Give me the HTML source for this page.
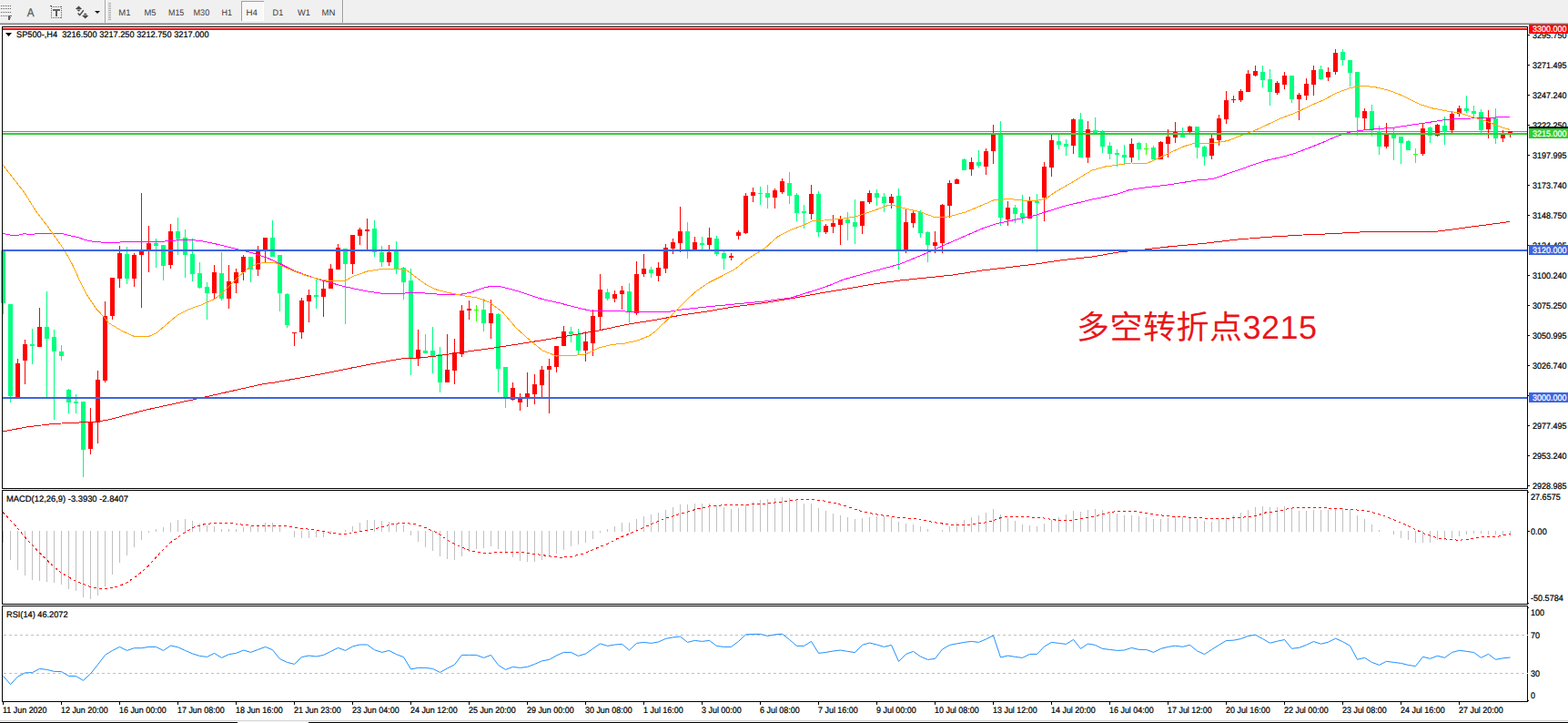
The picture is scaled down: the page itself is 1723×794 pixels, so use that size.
<!DOCTYPE html>
<html><head><meta charset="utf-8"><title>SP500-,H4</title>
<style>
html,body{margin:0;padding:0;background:#fff;width:1723px;height:794px;overflow:hidden}
svg{display:block;position:absolute;left:0;top:0}
text{font-family:"Liberation Sans",sans-serif;white-space:pre}
</style></head>
<body>
<svg width="1723" height="794" viewBox="0 0 1723 794" shape-rendering="crispEdges" text-rendering="geometricPrecision">
<rect x="0" y="0" width="1723" height="794" fill="#ffffff"/>
<rect x="0" y="0" width="1723" height="25" fill="#f0f0f0"/>
<rect x="0" y="25" width="1723" height="1" fill="#b9b9b9"/>
<rect x="0" y="26" width="1723" height="1" fill="#7a7a7a"/>
<rect x="1" y="6" width="1" height="1" fill="#5e5e5e"/>
<rect x="3" y="6" width="1" height="1" fill="#5e5e5e"/>
<rect x="5" y="6" width="1" height="1" fill="#5e5e5e"/>
<rect x="7" y="6" width="1" height="1" fill="#5e5e5e"/>
<rect x="9" y="6" width="1" height="1" fill="#5e5e5e"/>
<rect x="11" y="6" width="1" height="1" fill="#5e5e5e"/>
<rect x="1" y="9" width="1" height="1" fill="#5e5e5e"/>
<rect x="3" y="9" width="1" height="1" fill="#5e5e5e"/>
<rect x="5" y="9" width="1" height="1" fill="#5e5e5e"/>
<rect x="7" y="9" width="1" height="1" fill="#5e5e5e"/>
<rect x="9" y="9" width="1" height="1" fill="#5e5e5e"/>
<rect x="11" y="9" width="1" height="1" fill="#5e5e5e"/>
<rect x="1" y="13" width="1" height="1" fill="#5e5e5e"/>
<rect x="3" y="13" width="1" height="1" fill="#5e5e5e"/>
<rect x="5" y="13" width="1" height="1" fill="#5e5e5e"/>
<rect x="7" y="13" width="1" height="1" fill="#5e5e5e"/>
<rect x="9" y="13" width="1" height="1" fill="#5e5e5e"/>
<rect x="11" y="13" width="1" height="1" fill="#5e5e5e"/>
<rect x="1" y="17" width="1" height="1" fill="#5e5e5e"/>
<rect x="3" y="17" width="1" height="1" fill="#5e5e5e"/>
<rect x="5" y="17" width="1" height="1" fill="#5e5e5e"/>
<rect x="7" y="17" width="1" height="1" fill="#5e5e5e"/>
<rect x="9" y="17" width="2" height="5" fill="#5e5e5e"/>
<rect x="9" y="17" width="4" height="1" fill="#5e5e5e"/>
<rect x="9" y="19" width="3" height="1" fill="#5e5e5e"/>
<text x="29.8" y="18" font-size="12.6" fill="#5e5e5e" textLength="7.8" lengthAdjust="spacingAndGlyphs" stroke="#5e5e5e" stroke-width="0.3">A</text>
<rect x="56" y="7" width="1" height="1" fill="#5e5e5e"/>
<rect x="56" y="19" width="1" height="1" fill="#5e5e5e"/>
<rect x="58" y="7" width="1" height="1" fill="#5e5e5e"/>
<rect x="58" y="19" width="1" height="1" fill="#5e5e5e"/>
<rect x="60" y="7" width="1" height="1" fill="#5e5e5e"/>
<rect x="60" y="19" width="1" height="1" fill="#5e5e5e"/>
<rect x="62" y="7" width="1" height="1" fill="#5e5e5e"/>
<rect x="62" y="19" width="1" height="1" fill="#5e5e5e"/>
<rect x="64" y="7" width="1" height="1" fill="#5e5e5e"/>
<rect x="64" y="19" width="1" height="1" fill="#5e5e5e"/>
<rect x="66" y="7" width="1" height="1" fill="#5e5e5e"/>
<rect x="66" y="19" width="1" height="1" fill="#5e5e5e"/>
<rect x="67" y="7" width="1" height="1" fill="#5e5e5e"/>
<rect x="67" y="19" width="1" height="1" fill="#5e5e5e"/>
<rect x="56" y="7" width="1" height="1" fill="#5e5e5e"/>
<rect x="67" y="7" width="1" height="1" fill="#5e5e5e"/>
<rect x="56" y="9" width="1" height="1" fill="#5e5e5e"/>
<rect x="67" y="9" width="1" height="1" fill="#5e5e5e"/>
<rect x="56" y="11" width="1" height="1" fill="#5e5e5e"/>
<rect x="67" y="11" width="1" height="1" fill="#5e5e5e"/>
<rect x="56" y="13" width="1" height="1" fill="#5e5e5e"/>
<rect x="67" y="13" width="1" height="1" fill="#5e5e5e"/>
<rect x="56" y="15" width="1" height="1" fill="#5e5e5e"/>
<rect x="67" y="15" width="1" height="1" fill="#5e5e5e"/>
<rect x="56" y="17" width="1" height="1" fill="#5e5e5e"/>
<rect x="67" y="17" width="1" height="1" fill="#5e5e5e"/>
<rect x="56" y="19" width="1" height="1" fill="#5e5e5e"/>
<rect x="67" y="19" width="1" height="1" fill="#5e5e5e"/>
<rect x="55" y="6" width="2" height="1" fill="#5e5e5e"/>
<rect x="58" y="10" width="8" height="2" fill="#686868"/>
<rect x="61" y="11" width="2" height="7" fill="#5e5e5e"/>
<g shape-rendering="auto"><path d="M82.8,10 L86.5,6.6 L90.2,10 Z M84,10.6 L89,10.6 L86.5,12.8 Z M90,17 L97.4,17 L93.7,20.4 Z M91.2,16.4 L96.2,16.4 L93.7,14.2 Z" fill="#4a4a4a"/><path d="M85.6,14.6 L87.6,16.6 L91.8,11.2" fill="none" stroke="#4a4a4a" stroke-width="1.4"/></g>
<path d="M104,12 L110,12 L107,15 Z" fill="#1a1a1a" shape-rendering="auto"/>
<rect x="115" y="0" width="1" height="25" fill="#a3a3a3"/>
<rect x="116" y="0" width="1" height="25" fill="#fbfbfb"/>
<rect x="119" y="3" width="3" height="1" fill="#a9a9a9"/>
<rect x="119" y="5" width="3" height="1" fill="#a9a9a9"/>
<rect x="119" y="7" width="3" height="1" fill="#a9a9a9"/>
<rect x="119" y="9" width="3" height="1" fill="#a9a9a9"/>
<rect x="119" y="11" width="3" height="1" fill="#a9a9a9"/>
<rect x="119" y="13" width="3" height="1" fill="#a9a9a9"/>
<rect x="119" y="15" width="3" height="1" fill="#a9a9a9"/>
<rect x="119" y="17" width="3" height="1" fill="#a9a9a9"/>
<rect x="119" y="19" width="3" height="1" fill="#a9a9a9"/>
<rect x="119" y="21" width="3" height="1" fill="#a9a9a9"/>
<rect x="265" y="1" width="25" height="22" fill="#f8f8f8"/>
<rect x="265" y="1" width="25" height="1" fill="#a0a0a0"/>
<rect x="265" y="1" width="1" height="22" fill="#a0a0a0"/>
<rect x="266" y="22" width="24" height="1" fill="#ffffff"/>
<rect x="289" y="2" width="1" height="21" fill="#ffffff"/>
<text x="130.3" y="17" font-size="9.5" fill="#3a3a3a" textLength="13.2" lengthAdjust="spacingAndGlyphs" stroke="none">M1</text>
<text x="158.5" y="17" font-size="9.5" fill="#3a3a3a" textLength="13.0" lengthAdjust="spacingAndGlyphs" stroke="none">M5</text>
<text x="185" y="17" font-size="9.5" fill="#3a3a3a" textLength="17.3" lengthAdjust="spacingAndGlyphs" stroke="none">M15</text>
<text x="212.5" y="17" font-size="9.5" fill="#3a3a3a" textLength="17.7" lengthAdjust="spacingAndGlyphs" stroke="none">M30</text>
<text x="243.6" y="17" font-size="9.5" fill="#3a3a3a" textLength="11.5" lengthAdjust="spacingAndGlyphs" stroke="none">H1</text>
<text x="270.6" y="17" font-size="9.5" fill="#3a3a3a" textLength="12.4" lengthAdjust="spacingAndGlyphs" stroke="none">H4</text>
<text x="299.6" y="17" font-size="9.5" fill="#3a3a3a" textLength="11.6" lengthAdjust="spacingAndGlyphs" stroke="none">D1</text>
<text x="327.1" y="17" font-size="9.5" fill="#3a3a3a" textLength="13.9" lengthAdjust="spacingAndGlyphs" stroke="none">W1</text>
<text x="353.6" y="17" font-size="9.5" fill="#3a3a3a" textLength="14.8" lengthAdjust="spacingAndGlyphs" stroke="none">MN</text>
<rect x="376" y="0" width="1" height="25" fill="#9a9a9a"/>
<rect x="377" y="0" width="1" height="25" fill="#fbfbfb"/>
<rect x="3" y="144" width="1675" height="1" fill="#778899"/>
<rect x="3" y="275" width="1" height="70" fill="#00ff80"/>
<rect x="1" y="275" width="5" height="58" fill="#00ff80"/>
<rect x="11" y="334" width="1" height="108" fill="#00ff80"/>
<rect x="9" y="334" width="5" height="101" fill="#00ff80"/>
<rect x="19" y="394" width="1" height="42" fill="#ff0000"/>
<rect x="17" y="399" width="5" height="37" fill="#ff0000"/>
<rect x="27" y="373" width="1" height="49" fill="#ff0000"/>
<rect x="25" y="378" width="5" height="18" fill="#ff0000"/>
<rect x="35" y="361" width="1" height="39" fill="#00ff80"/>
<rect x="33" y="378" width="5" height="2" fill="#00ff80"/>
<rect x="43" y="338" width="1" height="43" fill="#ff0000"/>
<rect x="41" y="359" width="5" height="22" fill="#ff0000"/>
<rect x="51" y="320" width="1" height="116" fill="#00ff80"/>
<rect x="49" y="359" width="5" height="13" fill="#00ff80"/>
<rect x="59" y="362" width="1" height="99" fill="#00ff80"/>
<rect x="57" y="370" width="5" height="16" fill="#00ff80"/>
<rect x="67" y="379" width="1" height="17" fill="#00ff80"/>
<rect x="65" y="386" width="5" height="5" fill="#00ff80"/>
<rect x="75" y="427" width="1" height="27" fill="#00ff80"/>
<rect x="73" y="428" width="5" height="14" fill="#00ff80"/>
<rect x="83" y="433" width="1" height="21" fill="#00ff80"/>
<rect x="81" y="441" width="5" height="2" fill="#00ff80"/>
<rect x="91" y="441" width="1" height="83" fill="#00ff80"/>
<rect x="89" y="441" width="5" height="53" fill="#00ff80"/>
<rect x="99" y="448" width="1" height="51" fill="#ff0000"/>
<rect x="97" y="464" width="5" height="29" fill="#ff0000"/>
<rect x="107" y="407" width="1" height="80" fill="#ff0000"/>
<rect x="105" y="417" width="5" height="47" fill="#ff0000"/>
<rect x="115" y="331" width="1" height="89" fill="#ff0000"/>
<rect x="113" y="347" width="5" height="71" fill="#ff0000"/>
<rect x="123" y="305" width="1" height="46" fill="#ff0000"/>
<rect x="121" y="305" width="5" height="42" fill="#ff0000"/>
<rect x="131" y="270" width="1" height="46" fill="#ff0000"/>
<rect x="129" y="278" width="5" height="28" fill="#ff0000"/>
<rect x="139" y="271" width="1" height="41" fill="#00ff80"/>
<rect x="137" y="279" width="5" height="27" fill="#00ff80"/>
<rect x="147" y="278" width="1" height="37" fill="#ff0000"/>
<rect x="145" y="280" width="5" height="26" fill="#ff0000"/>
<rect x="155" y="212" width="1" height="126" fill="#ff0000"/>
<rect x="153" y="275" width="5" height="5" fill="#ff0000"/>
<rect x="163" y="248" width="1" height="51" fill="#ff0000"/>
<rect x="161" y="267" width="5" height="9" fill="#ff0000"/>
<rect x="171" y="262" width="1" height="32" fill="#00ff80"/>
<rect x="169" y="267" width="5" height="3" fill="#00ff80"/>
<rect x="179" y="269" width="1" height="39" fill="#00ff80"/>
<rect x="177" y="269" width="5" height="23" fill="#00ff80"/>
<rect x="187" y="246" width="1" height="49" fill="#ff0000"/>
<rect x="185" y="254" width="5" height="37" fill="#ff0000"/>
<rect x="195" y="239" width="1" height="41" fill="#00ff80"/>
<rect x="193" y="254" width="5" height="8" fill="#00ff80"/>
<rect x="203" y="252" width="1" height="53" fill="#00ff80"/>
<rect x="201" y="261" width="5" height="19" fill="#00ff80"/>
<rect x="211" y="262" width="1" height="47" fill="#00ff80"/>
<rect x="209" y="279" width="5" height="22" fill="#00ff80"/>
<rect x="219" y="288" width="1" height="29" fill="#00ff80"/>
<rect x="217" y="300" width="5" height="16" fill="#00ff80"/>
<rect x="227" y="310" width="1" height="41" fill="#00ff80"/>
<rect x="225" y="315" width="5" height="7" fill="#00ff80"/>
<rect x="235" y="291" width="1" height="38" fill="#ff0000"/>
<rect x="233" y="299" width="5" height="23" fill="#ff0000"/>
<rect x="243" y="277" width="1" height="53" fill="#00ff80"/>
<rect x="241" y="300" width="5" height="28" fill="#00ff80"/>
<rect x="251" y="291" width="1" height="48" fill="#ff0000"/>
<rect x="249" y="309" width="5" height="19" fill="#ff0000"/>
<rect x="259" y="295" width="1" height="27" fill="#ff0000"/>
<rect x="257" y="299" width="5" height="12" fill="#ff0000"/>
<rect x="267" y="280" width="1" height="28" fill="#ff0000"/>
<rect x="265" y="282" width="5" height="17" fill="#ff0000"/>
<rect x="275" y="282" width="1" height="28" fill="#00ff80"/>
<rect x="273" y="282" width="5" height="14" fill="#00ff80"/>
<rect x="283" y="270" width="1" height="33" fill="#ff0000"/>
<rect x="281" y="275" width="5" height="21" fill="#ff0000"/>
<rect x="291" y="261" width="1" height="27" fill="#ff0000"/>
<rect x="289" y="261" width="5" height="15" fill="#ff0000"/>
<rect x="299" y="242" width="1" height="40" fill="#00ff80"/>
<rect x="297" y="261" width="5" height="21" fill="#00ff80"/>
<rect x="307" y="280" width="1" height="62" fill="#00ff80"/>
<rect x="305" y="280" width="5" height="42" fill="#00ff80"/>
<rect x="315" y="322" width="1" height="38" fill="#00ff80"/>
<rect x="313" y="323" width="5" height="34" fill="#00ff80"/>
<rect x="323" y="365" width="1" height="15" fill="#ff0000"/>
<rect x="321" y="365" width="5" height="1" fill="#ff0000"/>
<rect x="331" y="327" width="1" height="45" fill="#ff0000"/>
<rect x="329" y="330" width="5" height="35" fill="#ff0000"/>
<rect x="339" y="318" width="1" height="36" fill="#ff0000"/>
<rect x="337" y="324" width="5" height="7" fill="#ff0000"/>
<rect x="347" y="307" width="1" height="32" fill="#00ff80"/>
<rect x="345" y="324" width="5" height="2" fill="#00ff80"/>
<rect x="355" y="309" width="1" height="39" fill="#ff0000"/>
<rect x="353" y="317" width="5" height="9" fill="#ff0000"/>
<rect x="363" y="290" width="1" height="27" fill="#ff0000"/>
<rect x="361" y="295" width="5" height="22" fill="#ff0000"/>
<rect x="371" y="268" width="1" height="28" fill="#ff0000"/>
<rect x="369" y="272" width="5" height="24" fill="#ff0000"/>
<rect x="379" y="273" width="1" height="83" fill="#00ff80"/>
<rect x="377" y="273" width="5" height="17" fill="#00ff80"/>
<rect x="387" y="258" width="1" height="43" fill="#ff0000"/>
<rect x="385" y="258" width="5" height="32" fill="#ff0000"/>
<rect x="395" y="250" width="1" height="19" fill="#ff0000"/>
<rect x="393" y="252" width="5" height="7" fill="#ff0000"/>
<rect x="403" y="240" width="1" height="34" fill="#ff0000"/>
<rect x="401" y="252" width="5" height="2" fill="#ff0000"/>
<rect x="411" y="242" width="1" height="40" fill="#00ff80"/>
<rect x="409" y="251" width="5" height="26" fill="#00ff80"/>
<rect x="419" y="270" width="1" height="23" fill="#00ff80"/>
<rect x="417" y="277" width="5" height="11" fill="#00ff80"/>
<rect x="427" y="269" width="1" height="23" fill="#ff0000"/>
<rect x="425" y="277" width="5" height="11" fill="#ff0000"/>
<rect x="435" y="265" width="1" height="36" fill="#00ff80"/>
<rect x="433" y="276" width="5" height="19" fill="#00ff80"/>
<rect x="443" y="293" width="1" height="36" fill="#00ff80"/>
<rect x="441" y="294" width="5" height="16" fill="#00ff80"/>
<rect x="451" y="295" width="1" height="117" fill="#00ff80"/>
<rect x="449" y="308" width="5" height="85" fill="#00ff80"/>
<rect x="459" y="362" width="1" height="40" fill="#ff0000"/>
<rect x="457" y="384" width="5" height="10" fill="#ff0000"/>
<rect x="467" y="367" width="1" height="21" fill="#00ff80"/>
<rect x="465" y="385" width="5" height="3" fill="#00ff80"/>
<rect x="475" y="359" width="1" height="51" fill="#00ff80"/>
<rect x="473" y="385" width="5" height="7" fill="#00ff80"/>
<rect x="483" y="381" width="1" height="50" fill="#00ff80"/>
<rect x="481" y="389" width="5" height="31" fill="#00ff80"/>
<rect x="491" y="367" width="1" height="53" fill="#ff0000"/>
<rect x="489" y="406" width="5" height="14" fill="#ff0000"/>
<rect x="499" y="372" width="1" height="50" fill="#ff0000"/>
<rect x="497" y="387" width="5" height="20" fill="#ff0000"/>
<rect x="507" y="335" width="1" height="57" fill="#ff0000"/>
<rect x="505" y="341" width="5" height="48" fill="#ff0000"/>
<rect x="515" y="330" width="1" height="21" fill="#ff0000"/>
<rect x="513" y="339" width="5" height="2" fill="#ff0000"/>
<rect x="523" y="335" width="1" height="18" fill="#30ff00"/>
<rect x="521" y="340" width="5" height="1" fill="#30ff00"/>
<rect x="531" y="328" width="1" height="36" fill="#00ff80"/>
<rect x="529" y="340" width="5" height="15" fill="#00ff80"/>
<rect x="539" y="329" width="1" height="43" fill="#ff0000"/>
<rect x="537" y="344" width="5" height="11" fill="#ff0000"/>
<rect x="547" y="344" width="1" height="87" fill="#00ff80"/>
<rect x="545" y="345" width="5" height="60" fill="#00ff80"/>
<rect x="555" y="403" width="1" height="45" fill="#00ff80"/>
<rect x="553" y="403" width="5" height="35" fill="#00ff80"/>
<rect x="563" y="420" width="1" height="20" fill="#ff0000"/>
<rect x="561" y="426" width="5" height="13" fill="#ff0000"/>
<rect x="571" y="432" width="1" height="19" fill="#ff0000"/>
<rect x="569" y="438" width="5" height="4" fill="#ff0000"/>
<rect x="579" y="409" width="1" height="38" fill="#ff0000"/>
<rect x="577" y="432" width="5" height="6" fill="#ff0000"/>
<rect x="587" y="411" width="1" height="33" fill="#ff0000"/>
<rect x="585" y="422" width="5" height="11" fill="#ff0000"/>
<rect x="595" y="402" width="1" height="34" fill="#ff0000"/>
<rect x="593" y="406" width="5" height="17" fill="#ff0000"/>
<rect x="603" y="394" width="1" height="60" fill="#ff0000"/>
<rect x="601" y="402" width="5" height="4" fill="#ff0000"/>
<rect x="611" y="380" width="1" height="29" fill="#ff0000"/>
<rect x="609" y="380" width="5" height="23" fill="#ff0000"/>
<rect x="619" y="358" width="1" height="22" fill="#ff0000"/>
<rect x="617" y="364" width="5" height="16" fill="#ff0000"/>
<rect x="627" y="359" width="1" height="17" fill="#00ff80"/>
<rect x="625" y="364" width="5" height="3" fill="#00ff80"/>
<rect x="635" y="361" width="1" height="29" fill="#00ff80"/>
<rect x="633" y="367" width="5" height="18" fill="#00ff80"/>
<rect x="643" y="364" width="1" height="33" fill="#ff0000"/>
<rect x="641" y="375" width="5" height="10" fill="#ff0000"/>
<rect x="651" y="340" width="1" height="51" fill="#ff0000"/>
<rect x="649" y="347" width="5" height="30" fill="#ff0000"/>
<rect x="659" y="301" width="1" height="61" fill="#ff0000"/>
<rect x="657" y="318" width="5" height="30" fill="#ff0000"/>
<rect x="667" y="317" width="1" height="13" fill="#00ff80"/>
<rect x="665" y="321" width="5" height="7" fill="#00ff80"/>
<rect x="675" y="319" width="1" height="13" fill="#ff0000"/>
<rect x="673" y="323" width="5" height="5" fill="#ff0000"/>
<rect x="683" y="314" width="1" height="26" fill="#ff0000"/>
<rect x="681" y="319" width="5" height="4" fill="#ff0000"/>
<rect x="691" y="311" width="1" height="43" fill="#00ff80"/>
<rect x="689" y="320" width="5" height="23" fill="#00ff80"/>
<rect x="699" y="287" width="1" height="59" fill="#ff0000"/>
<rect x="697" y="301" width="5" height="43" fill="#ff0000"/>
<rect x="707" y="279" width="1" height="25" fill="#ff0000"/>
<rect x="705" y="295" width="5" height="6" fill="#ff0000"/>
<rect x="715" y="293" width="1" height="12" fill="#00ff80"/>
<rect x="713" y="296" width="5" height="4" fill="#00ff80"/>
<rect x="723" y="288" width="1" height="21" fill="#ff0000"/>
<rect x="721" y="294" width="5" height="9" fill="#ff0000"/>
<rect x="731" y="268" width="1" height="32" fill="#ff0000"/>
<rect x="729" y="272" width="5" height="23" fill="#ff0000"/>
<rect x="739" y="262" width="1" height="17" fill="#ff0000"/>
<rect x="737" y="266" width="5" height="7" fill="#ff0000"/>
<rect x="747" y="227" width="1" height="50" fill="#ff0000"/>
<rect x="745" y="254" width="5" height="13" fill="#ff0000"/>
<rect x="755" y="244" width="1" height="40" fill="#00ff80"/>
<rect x="753" y="254" width="5" height="21" fill="#00ff80"/>
<rect x="763" y="260" width="1" height="15" fill="#ff0000"/>
<rect x="761" y="266" width="5" height="9" fill="#ff0000"/>
<rect x="771" y="260" width="1" height="14" fill="#00ff80"/>
<rect x="769" y="267" width="5" height="2" fill="#00ff80"/>
<rect x="779" y="250" width="1" height="24" fill="#ff0000"/>
<rect x="777" y="261" width="5" height="8" fill="#ff0000"/>
<rect x="787" y="259" width="1" height="22" fill="#00ff80"/>
<rect x="785" y="262" width="5" height="17" fill="#00ff80"/>
<rect x="795" y="276" width="1" height="20" fill="#00ff80"/>
<rect x="793" y="278" width="5" height="6" fill="#00ff80"/>
<rect x="803" y="278" width="1" height="8" fill="#ff0000"/>
<rect x="801" y="281" width="5" height="2" fill="#ff0000"/>
<rect x="811" y="253" width="1" height="10" fill="#ff0000"/>
<rect x="809" y="255" width="5" height="4" fill="#ff0000"/>
<rect x="819" y="212" width="1" height="45" fill="#ff0000"/>
<rect x="817" y="215" width="5" height="41" fill="#ff0000"/>
<rect x="827" y="206" width="1" height="16" fill="#ff0000"/>
<rect x="825" y="211" width="5" height="4" fill="#ff0000"/>
<rect x="835" y="205" width="1" height="20" fill="#00ff80"/>
<rect x="833" y="212" width="5" height="1" fill="#00ff80"/>
<rect x="843" y="203" width="1" height="26" fill="#00ff80"/>
<rect x="841" y="212" width="5" height="5" fill="#00ff80"/>
<rect x="851" y="207" width="1" height="22" fill="#ff0000"/>
<rect x="849" y="209" width="5" height="8" fill="#ff0000"/>
<rect x="859" y="196" width="1" height="17" fill="#ff0000"/>
<rect x="857" y="199" width="5" height="12" fill="#ff0000"/>
<rect x="867" y="189" width="1" height="35" fill="#00ff80"/>
<rect x="865" y="201" width="5" height="14" fill="#00ff80"/>
<rect x="875" y="212" width="1" height="31" fill="#00ff80"/>
<rect x="873" y="214" width="5" height="20" fill="#00ff80"/>
<rect x="883" y="225" width="1" height="26" fill="#00ff80"/>
<rect x="881" y="232" width="5" height="2" fill="#00ff80"/>
<rect x="891" y="203" width="1" height="38" fill="#ff0000"/>
<rect x="889" y="213" width="5" height="22" fill="#ff0000"/>
<rect x="899" y="210" width="1" height="50" fill="#00ff80"/>
<rect x="897" y="213" width="5" height="42" fill="#00ff80"/>
<rect x="907" y="246" width="1" height="11" fill="#ff0000"/>
<rect x="905" y="248" width="5" height="7" fill="#ff0000"/>
<rect x="915" y="236" width="1" height="20" fill="#ff0000"/>
<rect x="913" y="245" width="5" height="4" fill="#ff0000"/>
<rect x="923" y="237" width="1" height="32" fill="#ff0000"/>
<rect x="921" y="241" width="5" height="6" fill="#ff0000"/>
<rect x="931" y="233" width="1" height="31" fill="#00ff80"/>
<rect x="929" y="241" width="5" height="4" fill="#00ff80"/>
<rect x="939" y="219" width="1" height="49" fill="#00ff80"/>
<rect x="937" y="244" width="5" height="5" fill="#00ff80"/>
<rect x="947" y="221" width="1" height="36" fill="#ff0000"/>
<rect x="945" y="221" width="5" height="27" fill="#ff0000"/>
<rect x="955" y="209" width="1" height="15" fill="#ff0000"/>
<rect x="953" y="212" width="5" height="10" fill="#ff0000"/>
<rect x="963" y="208" width="1" height="18" fill="#00ff80"/>
<rect x="961" y="212" width="5" height="5" fill="#00ff80"/>
<rect x="971" y="212" width="1" height="21" fill="#00ff80"/>
<rect x="969" y="216" width="5" height="7" fill="#00ff80"/>
<rect x="979" y="213" width="1" height="16" fill="#ff0000"/>
<rect x="977" y="216" width="5" height="7" fill="#ff0000"/>
<rect x="987" y="207" width="1" height="89" fill="#00ff80"/>
<rect x="985" y="215" width="5" height="60" fill="#00ff80"/>
<rect x="995" y="230" width="1" height="48" fill="#ff0000"/>
<rect x="993" y="244" width="5" height="31" fill="#ff0000"/>
<rect x="1003" y="231" width="1" height="19" fill="#ff0000"/>
<rect x="1001" y="234" width="5" height="11" fill="#ff0000"/>
<rect x="1011" y="231" width="1" height="30" fill="#00ff80"/>
<rect x="1009" y="233" width="5" height="23" fill="#00ff80"/>
<rect x="1019" y="254" width="1" height="34" fill="#00ff80"/>
<rect x="1017" y="255" width="5" height="14" fill="#00ff80"/>
<rect x="1027" y="254" width="1" height="24" fill="#ff0000"/>
<rect x="1025" y="266" width="5" height="4" fill="#ff0000"/>
<rect x="1035" y="224" width="1" height="54" fill="#ff0000"/>
<rect x="1033" y="225" width="5" height="42" fill="#ff0000"/>
<rect x="1043" y="198" width="1" height="41" fill="#ff0000"/>
<rect x="1041" y="201" width="5" height="25" fill="#ff0000"/>
<rect x="1051" y="196" width="1" height="6" fill="#ff0000"/>
<rect x="1049" y="197" width="5" height="5" fill="#ff0000"/>
<rect x="1059" y="174" width="1" height="13" fill="#00ff80"/>
<rect x="1057" y="175" width="5" height="12" fill="#00ff80"/>
<rect x="1067" y="173" width="1" height="20" fill="#ff0000"/>
<rect x="1065" y="178" width="5" height="8" fill="#ff0000"/>
<rect x="1075" y="165" width="1" height="19" fill="#00ff80"/>
<rect x="1073" y="178" width="5" height="4" fill="#00ff80"/>
<rect x="1083" y="163" width="1" height="29" fill="#ff0000"/>
<rect x="1081" y="166" width="5" height="17" fill="#ff0000"/>
<rect x="1091" y="137" width="1" height="43" fill="#ff0000"/>
<rect x="1089" y="147" width="5" height="19" fill="#ff0000"/>
<rect x="1099" y="133" width="1" height="115" fill="#00ff80"/>
<rect x="1097" y="147" width="5" height="92" fill="#00ff80"/>
<rect x="1107" y="221" width="1" height="27" fill="#ff0000"/>
<rect x="1105" y="228" width="5" height="13" fill="#ff0000"/>
<rect x="1115" y="225" width="1" height="20" fill="#00ff80"/>
<rect x="1113" y="228" width="5" height="7" fill="#00ff80"/>
<rect x="1123" y="214" width="1" height="31" fill="#00ff80"/>
<rect x="1121" y="234" width="5" height="5" fill="#00ff80"/>
<rect x="1131" y="216" width="1" height="24" fill="#ff0000"/>
<rect x="1129" y="221" width="5" height="19" fill="#ff0000"/>
<rect x="1139" y="213" width="1" height="64" fill="#00ff80"/>
<rect x="1137" y="221" width="5" height="2" fill="#00ff80"/>
<rect x="1147" y="178" width="1" height="65" fill="#ff0000"/>
<rect x="1145" y="183" width="5" height="34" fill="#ff0000"/>
<rect x="1155" y="148" width="1" height="46" fill="#ff0000"/>
<rect x="1153" y="154" width="5" height="30" fill="#ff0000"/>
<rect x="1163" y="148" width="1" height="16" fill="#00ff80"/>
<rect x="1161" y="155" width="5" height="4" fill="#00ff80"/>
<rect x="1171" y="153" width="1" height="18" fill="#00ff80"/>
<rect x="1169" y="158" width="5" height="3" fill="#00ff80"/>
<rect x="1179" y="130" width="1" height="39" fill="#ff0000"/>
<rect x="1177" y="131" width="5" height="29" fill="#ff0000"/>
<rect x="1187" y="124" width="1" height="49" fill="#00ff80"/>
<rect x="1185" y="131" width="5" height="42" fill="#00ff80"/>
<rect x="1195" y="133" width="1" height="46" fill="#ff0000"/>
<rect x="1193" y="142" width="5" height="31" fill="#ff0000"/>
<rect x="1203" y="129" width="1" height="17" fill="#00ff80"/>
<rect x="1201" y="143" width="5" height="3" fill="#00ff80"/>
<rect x="1211" y="143" width="1" height="25" fill="#00ff80"/>
<rect x="1209" y="145" width="5" height="16" fill="#00ff80"/>
<rect x="1219" y="156" width="1" height="19" fill="#00ff80"/>
<rect x="1217" y="160" width="5" height="9" fill="#00ff80"/>
<rect x="1227" y="164" width="1" height="19" fill="#00ff80"/>
<rect x="1225" y="168" width="5" height="2" fill="#00ff80"/>
<rect x="1235" y="159" width="1" height="21" fill="#00ff80"/>
<rect x="1233" y="170" width="5" height="3" fill="#00ff80"/>
<rect x="1243" y="152" width="1" height="27" fill="#ff0000"/>
<rect x="1241" y="158" width="5" height="15" fill="#ff0000"/>
<rect x="1251" y="156" width="1" height="20" fill="#00ff80"/>
<rect x="1249" y="157" width="5" height="7" fill="#00ff80"/>
<rect x="1259" y="157" width="1" height="13" fill="#30ff00"/>
<rect x="1257" y="163" width="5" height="1" fill="#30ff00"/>
<rect x="1267" y="160" width="1" height="15" fill="#00ff80"/>
<rect x="1265" y="162" width="5" height="13" fill="#00ff80"/>
<rect x="1275" y="155" width="1" height="20" fill="#ff0000"/>
<rect x="1273" y="156" width="5" height="19" fill="#ff0000"/>
<rect x="1283" y="142" width="1" height="31" fill="#ff0000"/>
<rect x="1281" y="150" width="5" height="8" fill="#ff0000"/>
<rect x="1291" y="134" width="1" height="23" fill="#ff0000"/>
<rect x="1289" y="145" width="5" height="6" fill="#ff0000"/>
<rect x="1299" y="140" width="1" height="11" fill="#00ff80"/>
<rect x="1297" y="146" width="5" height="5" fill="#00ff80"/>
<rect x="1307" y="138" width="1" height="8" fill="#ff0000"/>
<rect x="1305" y="139" width="5" height="6" fill="#ff0000"/>
<rect x="1315" y="139" width="1" height="35" fill="#00ff80"/>
<rect x="1313" y="139" width="5" height="23" fill="#00ff80"/>
<rect x="1323" y="160" width="1" height="22" fill="#00ff80"/>
<rect x="1321" y="161" width="5" height="11" fill="#00ff80"/>
<rect x="1331" y="148" width="1" height="27" fill="#ff0000"/>
<rect x="1329" y="152" width="5" height="19" fill="#ff0000"/>
<rect x="1339" y="126" width="1" height="34" fill="#ff0000"/>
<rect x="1337" y="130" width="5" height="24" fill="#ff0000"/>
<rect x="1347" y="100" width="1" height="36" fill="#ff0000"/>
<rect x="1345" y="110" width="5" height="21" fill="#ff0000"/>
<rect x="1355" y="105" width="1" height="8" fill="#ff0000"/>
<rect x="1353" y="109" width="5" height="1" fill="#ff0000"/>
<rect x="1363" y="98" width="1" height="14" fill="#ff0000"/>
<rect x="1361" y="100" width="5" height="10" fill="#ff0000"/>
<rect x="1371" y="77" width="1" height="24" fill="#ff0000"/>
<rect x="1369" y="81" width="5" height="20" fill="#ff0000"/>
<rect x="1379" y="72" width="1" height="12" fill="#ff0000"/>
<rect x="1377" y="78" width="5" height="5" fill="#ff0000"/>
<rect x="1387" y="72" width="1" height="24" fill="#00ff80"/>
<rect x="1385" y="79" width="5" height="9" fill="#00ff80"/>
<rect x="1395" y="76" width="1" height="40" fill="#00ff80"/>
<rect x="1393" y="87" width="5" height="14" fill="#00ff80"/>
<rect x="1403" y="89" width="1" height="15" fill="#ff0000"/>
<rect x="1401" y="91" width="5" height="11" fill="#ff0000"/>
<rect x="1411" y="79" width="1" height="19" fill="#ff0000"/>
<rect x="1409" y="83" width="5" height="10" fill="#ff0000"/>
<rect x="1419" y="83" width="1" height="30" fill="#00ff80"/>
<rect x="1417" y="83" width="5" height="26" fill="#00ff80"/>
<rect x="1427" y="102" width="1" height="30" fill="#ff0000"/>
<rect x="1425" y="104" width="5" height="5" fill="#ff0000"/>
<rect x="1435" y="86" width="1" height="24" fill="#ff0000"/>
<rect x="1433" y="92" width="5" height="13" fill="#ff0000"/>
<rect x="1443" y="72" width="1" height="33" fill="#ff0000"/>
<rect x="1441" y="77" width="5" height="16" fill="#ff0000"/>
<rect x="1451" y="72" width="1" height="16" fill="#00ff80"/>
<rect x="1449" y="76" width="5" height="11" fill="#00ff80"/>
<rect x="1459" y="74" width="1" height="15" fill="#ff0000"/>
<rect x="1457" y="79" width="5" height="6" fill="#ff0000"/>
<rect x="1467" y="54" width="1" height="28" fill="#ff0000"/>
<rect x="1465" y="58" width="5" height="21" fill="#ff0000"/>
<rect x="1475" y="54" width="1" height="18" fill="#00ff80"/>
<rect x="1473" y="57" width="5" height="9" fill="#00ff80"/>
<rect x="1483" y="66" width="1" height="29" fill="#00ff80"/>
<rect x="1481" y="66" width="5" height="14" fill="#00ff80"/>
<rect x="1491" y="79" width="1" height="70" fill="#00ff80"/>
<rect x="1489" y="79" width="5" height="50" fill="#00ff80"/>
<rect x="1499" y="119" width="1" height="24" fill="#ff0000"/>
<rect x="1497" y="122" width="5" height="8" fill="#ff0000"/>
<rect x="1507" y="115" width="1" height="35" fill="#00ff80"/>
<rect x="1505" y="122" width="5" height="21" fill="#00ff80"/>
<rect x="1515" y="138" width="1" height="32" fill="#00ff80"/>
<rect x="1513" y="144" width="5" height="17" fill="#00ff80"/>
<rect x="1523" y="135" width="1" height="28" fill="#ff0000"/>
<rect x="1521" y="147" width="5" height="14" fill="#ff0000"/>
<rect x="1531" y="141" width="1" height="35" fill="#00ff80"/>
<rect x="1529" y="147" width="5" height="5" fill="#00ff80"/>
<rect x="1539" y="150" width="1" height="30" fill="#00ff80"/>
<rect x="1537" y="150" width="5" height="7" fill="#00ff80"/>
<rect x="1547" y="154" width="1" height="11" fill="#00ff80"/>
<rect x="1545" y="155" width="5" height="10" fill="#00ff80"/>
<rect x="1555" y="163" width="1" height="16" fill="#30ff00"/>
<rect x="1553" y="169" width="5" height="1" fill="#30ff00"/>
<rect x="1563" y="135" width="1" height="36" fill="#ff0000"/>
<rect x="1561" y="141" width="5" height="28" fill="#ff0000"/>
<rect x="1571" y="139" width="1" height="18" fill="#00ff80"/>
<rect x="1569" y="140" width="5" height="9" fill="#00ff80"/>
<rect x="1579" y="136" width="1" height="14" fill="#ff0000"/>
<rect x="1577" y="137" width="5" height="12" fill="#ff0000"/>
<rect x="1587" y="128" width="1" height="31" fill="#00ff80"/>
<rect x="1585" y="138" width="5" height="7" fill="#00ff80"/>
<rect x="1595" y="123" width="1" height="23" fill="#ff0000"/>
<rect x="1593" y="125" width="5" height="18" fill="#ff0000"/>
<rect x="1603" y="116" width="1" height="12" fill="#ff0000"/>
<rect x="1601" y="119" width="5" height="6" fill="#ff0000"/>
<rect x="1611" y="105" width="1" height="19" fill="#00ff80"/>
<rect x="1609" y="119" width="5" height="3" fill="#00ff80"/>
<rect x="1619" y="116" width="1" height="12" fill="#00ff80"/>
<rect x="1617" y="122" width="5" height="3" fill="#00ff80"/>
<rect x="1627" y="120" width="1" height="26" fill="#00ff80"/>
<rect x="1625" y="123" width="5" height="20" fill="#00ff80"/>
<rect x="1635" y="121" width="1" height="31" fill="#ff0000"/>
<rect x="1633" y="130" width="5" height="12" fill="#ff0000"/>
<rect x="1643" y="119" width="1" height="39" fill="#00ff80"/>
<rect x="1641" y="130" width="5" height="22" fill="#00ff80"/>
<rect x="1651" y="143" width="1" height="13" fill="#ff0000"/>
<rect x="1649" y="148" width="5" height="4" fill="#ff0000"/>
<rect x="1659" y="144" width="1" height="7" fill="#ff0000"/>
<rect x="1657" y="144" width="5" height="2" fill="#ff0000"/>
<polyline points="3,474 29,469 58,465.5 87,464 108,463 120,460.8 161,450 219,437.4 290,421.5 302,420 360,409.5 389,403.5 418,398 441,394 461,393 480,390.9 509,386.7 538,382.7 567,378.3 600,373 629,368 658,363 687,356.7 720,351.3 749,346 778,341.8 807,336.8 840,332.6 869,327.9 898,322.6 927,317.7 960,312 989,308 1018,305 1047,302 1080,296.9 1109,293.5 1138,290 1167,285.7 1200,282 1229,277 1258,274 1287,270.6 1320,267.7 1360,263 1398,260 1440,257.5 1463,256.8 1486,255.3 1500,254.8 1575,254.6 1590,252.8 1613.7,249.5 1642.6,245.7 1659,243.4" fill="none" stroke="#f00000" stroke-width="1"/>
<polyline points="3,256.4 10.6,258 21,258 26.4,256.7 34.3,257.7 39.6,256.7 68.7,256.7 79.3,259.3 87.2,261 92.5,263.3 105.7,265.9 119,266.2 120,266.5 149,265.3 177.9,265.3 195.9,263.8 206.9,263.2 221.3,264.7 235.8,267.6 250.3,271 264.8,274.8 279.2,278.3 293.7,283.2 308.2,289.9 322.7,297.1 337,302.3 351.6,307.3 360,309.6 374.5,313.7 389,317 403.5,320 418,322 435,323 447,321.8 461,321.5 480,323 503,323.9 517.7,321 532,316 541,314 549.5,314.6 561,317.5 575.7,321.8 590,326.8 600,329.5 614.5,332.7 629,336.5 643.5,340 650.7,341.7 672.5,341.7 701,342.3 720,342.2 731.6,343 749,340 778,336.8 807,334 840,331 869,327 883.5,322.6 898,318 912.5,313 927,307 941,303 960,297.8 989,290 1018,278 1047,265 1080,250.8 1094.5,245.7 1109,242.8 1138,236.4 1167,227 1200,219 1214.5,216 1229,212.7 1240.6,208.6 1258,206 1287,202.5 1320,197.2 1331.6,196.9 1349,190.8 1363.5,185.9 1378,180.6 1392.5,176 1407,172.8 1421,169 1440,161.8 1454.5,156 1469,149.6 1483.5,145 1498,143 1515,141.5 1533,140 1547,137.8 1560,135.9 1574.5,133.7 1589,131.4 1603.5,130.5 1632.5,129.4 1659,128.5" fill="none" stroke="#ff00ff" stroke-width="1"/>
<polyline points="3,181 26.4,211 39.6,232 52.8,249.3 66,267.8 71.3,275.7 79.3,290 87.2,307.4 95,323 105.7,339 113.6,347.5 120,355 134.5,363.7 147.5,369.5 163.4,369.5 172,365.7 183.7,355.6 195.9,345.5 206.9,340 221.3,334.8 235.8,328.4 244.5,321.7 256,310.2 264.8,301.5 273.4,294.2 282,289.9 290.8,288.4 302.4,288.4 308.2,291.3 322.7,297.7 337,302.9 351.6,306.7 360,308.3 379,308.5 389,303 403.5,298 418,295.7 435,295 447,297 458.5,305.6 470,313.7 480,318.2 494.5,321.8 509,324.7 523.5,326.8 538,332 552.5,343 567,360 581.5,373 596,385 600,386.5 611.6,391 629,390.6 643.5,389 658,382 672.5,378.5 687,377 701,373.8 713,369 720,364 734.5,350 749,334.8 763.5,321 778,310.8 792.5,303.5 807,296 821,284.7 840,273 854.5,260 869,252.5 883.5,247 892,243 912.5,241.5 927,240 941,237.8 960,231.3 974.5,226 980,225 995,229 1012,233 1026.7,238.5 1037,239 1047,236.7 1061,233 1080,225 1091.6,220 1109,218.5 1123.5,220 1138,220.8 1149.5,218 1161,210 1175.7,201.7 1190,193 1200,187 1214.5,183 1229,181 1243.5,179 1259,180 1272.5,174 1287,167 1301,160.8 1310,158 1320,157.8 1334.5,157 1349,154.6 1363.5,149 1378,143.6 1392.5,137 1407,130 1421,125 1440,116 1454.5,109.7 1469,102 1483.5,96.6 1498,94 1512.5,96 1527,99.5 1541,105 1560,114.6 1574.5,119 1589,121.8 1603.5,124 1618,128.5 1632.5,132.8 1647,138.6 1659,142.5" fill="none" stroke="#ffa500" stroke-width="1"/>
<rect x="3" y="31" width="1675" height="2" fill="#ff0000"/>
<rect x="3" y="274" width="1675" height="2" fill="#3d65e0"/>
<rect x="3" y="436" width="1675" height="2" fill="#3d65e0"/>
<rect x="3" y="146" width="1675" height="2" fill="#32cd32"/>
<rect x="2" y="29" width="1677" height="1" fill="#000"/>
<rect x="2" y="29" width="1" height="508" fill="#000"/>
<rect x="2" y="536" width="1677" height="1" fill="#000"/>
<rect x="1678" y="29" width="1" height="508" fill="#000"/>
<rect x="2" y="538" width="1677" height="1" fill="#000"/>
<rect x="2" y="538" width="1" height="126" fill="#000"/>
<rect x="2" y="663" width="1677" height="1" fill="#000"/>
<rect x="1678" y="538" width="1" height="126" fill="#000"/>
<rect x="2" y="665" width="1677" height="1" fill="#000"/>
<rect x="2" y="665" width="1" height="106" fill="#000"/>
<rect x="2" y="770" width="1677" height="1" fill="#000"/>
<rect x="1678" y="665" width="1" height="106" fill="#000"/>
<path d="M6,36 L13,36 L9.5,40 Z" fill="#000" shape-rendering="auto"/>
<text x="18" y="41" font-size="9.5" fill="#000" textLength="211.6" lengthAdjust="spacingAndGlyphs" stroke="#000" stroke-width="0.22">SP500-,H4  3216.500 3217.250 3212.750 3217.000</text>
<rect x="1679" y="38" width="2" height="1" fill="#000"/>
<text x="1684" y="41.6" font-size="9.5" fill="#000" textLength="37.6" lengthAdjust="spacingAndGlyphs" stroke="#000" stroke-width="0.22">3295.750</text>
<rect x="1679" y="71" width="2" height="1" fill="#000"/>
<text x="1684" y="74.6" font-size="9.5" fill="#000" textLength="37.6" lengthAdjust="spacingAndGlyphs" stroke="#000" stroke-width="0.22">3271.495</text>
<rect x="1679" y="104" width="2" height="1" fill="#000"/>
<text x="1684" y="107.6" font-size="9.5" fill="#000" textLength="37.6" lengthAdjust="spacingAndGlyphs" stroke="#000" stroke-width="0.22">3247.240</text>
<rect x="1679" y="137" width="2" height="1" fill="#000"/>
<text x="1684" y="140.6" font-size="9.5" fill="#000" textLength="37.6" lengthAdjust="spacingAndGlyphs" stroke="#000" stroke-width="0.22">3222.250</text>
<rect x="1679" y="170" width="2" height="1" fill="#000"/>
<text x="1684" y="173.6" font-size="9.5" fill="#000" textLength="37.6" lengthAdjust="spacingAndGlyphs" stroke="#000" stroke-width="0.22">3197.995</text>
<rect x="1679" y="203" width="2" height="1" fill="#000"/>
<text x="1684" y="206.6" font-size="9.5" fill="#000" textLength="37.6" lengthAdjust="spacingAndGlyphs" stroke="#000" stroke-width="0.22">3173.740</text>
<rect x="1679" y="236" width="2" height="1" fill="#000"/>
<text x="1684" y="239.6" font-size="9.5" fill="#000" textLength="37.6" lengthAdjust="spacingAndGlyphs" stroke="#000" stroke-width="0.22">3148.750</text>
<rect x="1679" y="269" width="2" height="1" fill="#000"/>
<text x="1684" y="272.6" font-size="9.5" fill="#000" textLength="37.6" lengthAdjust="spacingAndGlyphs" stroke="#000" stroke-width="0.22">3124.495</text>
<rect x="1679" y="302" width="2" height="1" fill="#000"/>
<text x="1684" y="305.6" font-size="9.5" fill="#000" textLength="37.6" lengthAdjust="spacingAndGlyphs" stroke="#000" stroke-width="0.22">3100.240</text>
<rect x="1679" y="335" width="2" height="1" fill="#000"/>
<text x="1684" y="338.6" font-size="9.5" fill="#000" textLength="37.6" lengthAdjust="spacingAndGlyphs" stroke="#000" stroke-width="0.22">3075.250</text>
<rect x="1679" y="368" width="2" height="1" fill="#000"/>
<text x="1684" y="371.6" font-size="9.5" fill="#000" textLength="37.6" lengthAdjust="spacingAndGlyphs" stroke="#000" stroke-width="0.22">3050.995</text>
<rect x="1679" y="401" width="2" height="1" fill="#000"/>
<text x="1684" y="404.6" font-size="9.5" fill="#000" textLength="37.6" lengthAdjust="spacingAndGlyphs" stroke="#000" stroke-width="0.22">3026.740</text>
<rect x="1679" y="434" width="2" height="1" fill="#000"/>
<text x="1684" y="437.6" font-size="9.5" fill="#000" textLength="37.6" lengthAdjust="spacingAndGlyphs" stroke="#000" stroke-width="0.22">3002.485</text>
<rect x="1679" y="467" width="2" height="1" fill="#000"/>
<text x="1684" y="470.6" font-size="9.5" fill="#000" textLength="37.6" lengthAdjust="spacingAndGlyphs" stroke="#000" stroke-width="0.22">2977.495</text>
<rect x="1679" y="500" width="2" height="1" fill="#000"/>
<text x="1684" y="503.6" font-size="9.5" fill="#000" textLength="37.6" lengthAdjust="spacingAndGlyphs" stroke="#000" stroke-width="0.22">2953.240</text>
<rect x="1679" y="533" width="2" height="1" fill="#000"/>
<text x="1684" y="536.6" font-size="9.5" fill="#000" textLength="37.6" lengthAdjust="spacingAndGlyphs" stroke="#000" stroke-width="0.22">2928.985</text>
<rect x="1680" y="27" width="43" height="10" fill="#ff0000"/>
<text x="1684" y="35" font-size="9.5" fill="#fff" textLength="37.6" lengthAdjust="spacingAndGlyphs" stroke="#fff" stroke-width="0.22">3300.000</text>
<rect x="1680" y="139" width="43" height="10" fill="#000000"/>
<rect x="1680" y="141" width="43" height="11" fill="#32cd32"/>
<text x="1684" y="150" font-size="9.5" fill="#fff" textLength="37.6" lengthAdjust="spacingAndGlyphs" stroke="#fff" stroke-width="0.22">3215.000</text>
<rect x="1680" y="269" width="43" height="11" fill="#3d65e0"/>
<text x="1684" y="278" font-size="9.5" fill="#fff" textLength="37.6" lengthAdjust="spacingAndGlyphs" stroke="#fff" stroke-width="0.22">3120.000</text>
<rect x="1680" y="431" width="43" height="11" fill="#3d65e0"/>
<text x="1684" y="440" font-size="9.5" fill="#fff" textLength="37.6" lengthAdjust="spacingAndGlyphs" stroke="#fff" stroke-width="0.22">3000.000</text>
<rect x="3" y="583" width="1" height="13" fill="#c0c0c0"/>
<rect x="11" y="583" width="1" height="32" fill="#c0c0c0"/>
<rect x="19" y="583" width="1" height="43" fill="#c0c0c0"/>
<rect x="27" y="583" width="1" height="49" fill="#c0c0c0"/>
<rect x="35" y="583" width="1" height="54" fill="#c0c0c0"/>
<rect x="43" y="583" width="1" height="55" fill="#c0c0c0"/>
<rect x="51" y="583" width="1" height="56" fill="#c0c0c0"/>
<rect x="59" y="583" width="1" height="57" fill="#c0c0c0"/>
<rect x="67" y="583" width="1" height="59" fill="#c0c0c0"/>
<rect x="75" y="583" width="1" height="64" fill="#c0c0c0"/>
<rect x="83" y="583" width="1" height="66" fill="#c0c0c0"/>
<rect x="91" y="583" width="1" height="73" fill="#c0c0c0"/>
<rect x="99" y="583" width="1" height="75" fill="#c0c0c0"/>
<rect x="107" y="583" width="1" height="71" fill="#c0c0c0"/>
<rect x="115" y="583" width="1" height="61" fill="#c0c0c0"/>
<rect x="123" y="583" width="1" height="48" fill="#c0c0c0"/>
<rect x="131" y="583" width="1" height="35" fill="#c0c0c0"/>
<rect x="139" y="583" width="1" height="27" fill="#c0c0c0"/>
<rect x="147" y="583" width="1" height="18" fill="#c0c0c0"/>
<rect x="155" y="583" width="1" height="10" fill="#c0c0c0"/>
<rect x="163" y="583" width="1" height="2" fill="#c0c0c0"/>
<rect x="171" y="581" width="1" height="3" fill="#c0c0c0"/>
<rect x="179" y="579" width="1" height="5" fill="#c0c0c0"/>
<rect x="187" y="574" width="1" height="10" fill="#c0c0c0"/>
<rect x="195" y="571" width="1" height="13" fill="#c0c0c0"/>
<rect x="203" y="570" width="1" height="14" fill="#c0c0c0"/>
<rect x="211" y="572" width="1" height="12" fill="#c0c0c0"/>
<rect x="219" y="575" width="1" height="9" fill="#c0c0c0"/>
<rect x="227" y="577" width="1" height="7" fill="#c0c0c0"/>
<rect x="235" y="578" width="1" height="6" fill="#c0c0c0"/>
<rect x="243" y="581" width="1" height="3" fill="#c0c0c0"/>
<rect x="251" y="581" width="1" height="3" fill="#c0c0c0"/>
<rect x="259" y="581" width="1" height="3" fill="#c0c0c0"/>
<rect x="267" y="579" width="1" height="5" fill="#c0c0c0"/>
<rect x="275" y="578" width="1" height="6" fill="#c0c0c0"/>
<rect x="283" y="576" width="1" height="8" fill="#c0c0c0"/>
<rect x="291" y="574" width="1" height="10" fill="#c0c0c0"/>
<rect x="299" y="574" width="1" height="10" fill="#c0c0c0"/>
<rect x="307" y="577" width="1" height="7" fill="#c0c0c0"/>
<rect x="323" y="583" width="1" height="7" fill="#c0c0c0"/>
<rect x="331" y="583" width="1" height="8" fill="#c0c0c0"/>
<rect x="339" y="583" width="1" height="8" fill="#c0c0c0"/>
<rect x="347" y="583" width="1" height="7" fill="#c0c0c0"/>
<rect x="355" y="583" width="1" height="7" fill="#c0c0c0"/>
<rect x="363" y="583" width="1" height="4" fill="#c0c0c0"/>
<rect x="379" y="582" width="1" height="2" fill="#c0c0c0"/>
<rect x="387" y="578" width="1" height="6" fill="#c0c0c0"/>
<rect x="395" y="574" width="1" height="10" fill="#c0c0c0"/>
<rect x="403" y="571" width="1" height="13" fill="#c0c0c0"/>
<rect x="411" y="571" width="1" height="13" fill="#c0c0c0"/>
<rect x="419" y="572" width="1" height="12" fill="#c0c0c0"/>
<rect x="427" y="573" width="1" height="11" fill="#c0c0c0"/>
<rect x="435" y="575" width="1" height="9" fill="#c0c0c0"/>
<rect x="443" y="577" width="1" height="7" fill="#c0c0c0"/>
<rect x="451" y="583" width="1" height="5" fill="#c0c0c0"/>
<rect x="459" y="583" width="1" height="12" fill="#c0c0c0"/>
<rect x="467" y="583" width="1" height="18" fill="#c0c0c0"/>
<rect x="475" y="583" width="1" height="22" fill="#c0c0c0"/>
<rect x="483" y="583" width="1" height="28" fill="#c0c0c0"/>
<rect x="491" y="583" width="1" height="31" fill="#c0c0c0"/>
<rect x="499" y="583" width="1" height="32" fill="#c0c0c0"/>
<rect x="507" y="583" width="1" height="28" fill="#c0c0c0"/>
<rect x="515" y="583" width="1" height="23" fill="#c0c0c0"/>
<rect x="523" y="583" width="1" height="20" fill="#c0c0c0"/>
<rect x="531" y="583" width="1" height="19" fill="#c0c0c0"/>
<rect x="539" y="583" width="1" height="17" fill="#c0c0c0"/>
<rect x="547" y="583" width="1" height="20" fill="#c0c0c0"/>
<rect x="555" y="583" width="1" height="25" fill="#c0c0c0"/>
<rect x="563" y="583" width="1" height="29" fill="#c0c0c0"/>
<rect x="571" y="583" width="1" height="33" fill="#c0c0c0"/>
<rect x="579" y="583" width="1" height="34" fill="#c0c0c0"/>
<rect x="587" y="583" width="1" height="34" fill="#c0c0c0"/>
<rect x="595" y="583" width="1" height="32" fill="#c0c0c0"/>
<rect x="603" y="583" width="1" height="29" fill="#c0c0c0"/>
<rect x="611" y="583" width="1" height="25" fill="#c0c0c0"/>
<rect x="619" y="583" width="1" height="21" fill="#c0c0c0"/>
<rect x="627" y="583" width="1" height="17" fill="#c0c0c0"/>
<rect x="635" y="583" width="1" height="15" fill="#c0c0c0"/>
<rect x="643" y="583" width="1" height="13" fill="#c0c0c0"/>
<rect x="651" y="583" width="1" height="9" fill="#c0c0c0"/>
<rect x="659" y="583" width="1" height="2" fill="#c0c0c0"/>
<rect x="667" y="581" width="1" height="3" fill="#c0c0c0"/>
<rect x="675" y="578" width="1" height="6" fill="#c0c0c0"/>
<rect x="683" y="574" width="1" height="10" fill="#c0c0c0"/>
<rect x="691" y="574" width="1" height="10" fill="#c0c0c0"/>
<rect x="699" y="570" width="1" height="14" fill="#c0c0c0"/>
<rect x="707" y="567" width="1" height="17" fill="#c0c0c0"/>
<rect x="715" y="565" width="1" height="19" fill="#c0c0c0"/>
<rect x="723" y="563" width="1" height="21" fill="#c0c0c0"/>
<rect x="731" y="560" width="1" height="24" fill="#c0c0c0"/>
<rect x="739" y="557" width="1" height="27" fill="#c0c0c0"/>
<rect x="747" y="554" width="1" height="30" fill="#c0c0c0"/>
<rect x="755" y="554" width="1" height="30" fill="#c0c0c0"/>
<rect x="763" y="553" width="1" height="31" fill="#c0c0c0"/>
<rect x="771" y="553" width="1" height="31" fill="#c0c0c0"/>
<rect x="779" y="553" width="1" height="31" fill="#c0c0c0"/>
<rect x="787" y="555" width="1" height="29" fill="#c0c0c0"/>
<rect x="795" y="557" width="1" height="27" fill="#c0c0c0"/>
<rect x="803" y="559" width="1" height="25" fill="#c0c0c0"/>
<rect x="811" y="558" width="1" height="26" fill="#c0c0c0"/>
<rect x="819" y="554" width="1" height="30" fill="#c0c0c0"/>
<rect x="827" y="551" width="1" height="33" fill="#c0c0c0"/>
<rect x="835" y="549" width="1" height="35" fill="#c0c0c0"/>
<rect x="843" y="548" width="1" height="36" fill="#c0c0c0"/>
<rect x="851" y="547" width="1" height="37" fill="#c0c0c0"/>
<rect x="859" y="546" width="1" height="38" fill="#c0c0c0"/>
<rect x="867" y="547" width="1" height="37" fill="#c0c0c0"/>
<rect x="875" y="550" width="1" height="34" fill="#c0c0c0"/>
<rect x="883" y="553" width="1" height="31" fill="#c0c0c0"/>
<rect x="891" y="553" width="1" height="31" fill="#c0c0c0"/>
<rect x="899" y="558" width="1" height="26" fill="#c0c0c0"/>
<rect x="907" y="561" width="1" height="23" fill="#c0c0c0"/>
<rect x="915" y="564" width="1" height="20" fill="#c0c0c0"/>
<rect x="923" y="566" width="1" height="18" fill="#c0c0c0"/>
<rect x="931" y="568" width="1" height="16" fill="#c0c0c0"/>
<rect x="939" y="570" width="1" height="14" fill="#c0c0c0"/>
<rect x="947" y="569" width="1" height="15" fill="#c0c0c0"/>
<rect x="955" y="568" width="1" height="16" fill="#c0c0c0"/>
<rect x="963" y="567" width="1" height="17" fill="#c0c0c0"/>
<rect x="971" y="567" width="1" height="17" fill="#c0c0c0"/>
<rect x="979" y="568" width="1" height="16" fill="#c0c0c0"/>
<rect x="987" y="573" width="1" height="11" fill="#c0c0c0"/>
<rect x="995" y="575" width="1" height="9" fill="#c0c0c0"/>
<rect x="1003" y="576" width="1" height="8" fill="#c0c0c0"/>
<rect x="1011" y="578" width="1" height="6" fill="#c0c0c0"/>
<rect x="1019" y="581" width="1" height="3" fill="#c0c0c0"/>
<rect x="1035" y="582" width="1" height="2" fill="#c0c0c0"/>
<rect x="1043" y="578" width="1" height="6" fill="#c0c0c0"/>
<rect x="1051" y="574" width="1" height="10" fill="#c0c0c0"/>
<rect x="1059" y="571" width="1" height="13" fill="#c0c0c0"/>
<rect x="1067" y="568" width="1" height="16" fill="#c0c0c0"/>
<rect x="1075" y="566" width="1" height="18" fill="#c0c0c0"/>
<rect x="1083" y="563" width="1" height="21" fill="#c0c0c0"/>
<rect x="1091" y="559" width="1" height="25" fill="#c0c0c0"/>
<rect x="1099" y="565" width="1" height="19" fill="#c0c0c0"/>
<rect x="1107" y="569" width="1" height="15" fill="#c0c0c0"/>
<rect x="1115" y="572" width="1" height="12" fill="#c0c0c0"/>
<rect x="1123" y="576" width="1" height="8" fill="#c0c0c0"/>
<rect x="1131" y="577" width="1" height="7" fill="#c0c0c0"/>
<rect x="1139" y="578" width="1" height="6" fill="#c0c0c0"/>
<rect x="1147" y="575" width="1" height="9" fill="#c0c0c0"/>
<rect x="1155" y="571" width="1" height="13" fill="#c0c0c0"/>
<rect x="1163" y="568" width="1" height="16" fill="#c0c0c0"/>
<rect x="1171" y="565" width="1" height="19" fill="#c0c0c0"/>
<rect x="1179" y="561" width="1" height="23" fill="#c0c0c0"/>
<rect x="1187" y="562" width="1" height="22" fill="#c0c0c0"/>
<rect x="1195" y="560" width="1" height="24" fill="#c0c0c0"/>
<rect x="1203" y="559" width="1" height="25" fill="#c0c0c0"/>
<rect x="1211" y="560" width="1" height="24" fill="#c0c0c0"/>
<rect x="1219" y="562" width="1" height="22" fill="#c0c0c0"/>
<rect x="1227" y="564" width="1" height="20" fill="#c0c0c0"/>
<rect x="1235" y="566" width="1" height="18" fill="#c0c0c0"/>
<rect x="1243" y="566" width="1" height="18" fill="#c0c0c0"/>
<rect x="1251" y="567" width="1" height="17" fill="#c0c0c0"/>
<rect x="1259" y="568" width="1" height="16" fill="#c0c0c0"/>
<rect x="1267" y="570" width="1" height="14" fill="#c0c0c0"/>
<rect x="1275" y="570" width="1" height="14" fill="#c0c0c0"/>
<rect x="1283" y="569" width="1" height="15" fill="#c0c0c0"/>
<rect x="1291" y="567" width="1" height="17" fill="#c0c0c0"/>
<rect x="1299" y="568" width="1" height="16" fill="#c0c0c0"/>
<rect x="1307" y="569" width="1" height="15" fill="#c0c0c0"/>
<rect x="1315" y="570" width="1" height="14" fill="#c0c0c0"/>
<rect x="1323" y="572" width="1" height="12" fill="#c0c0c0"/>
<rect x="1331" y="573" width="1" height="11" fill="#c0c0c0"/>
<rect x="1339" y="570" width="1" height="14" fill="#c0c0c0"/>
<rect x="1347" y="568" width="1" height="16" fill="#c0c0c0"/>
<rect x="1355" y="566" width="1" height="18" fill="#c0c0c0"/>
<rect x="1363" y="563" width="1" height="21" fill="#c0c0c0"/>
<rect x="1371" y="560" width="1" height="24" fill="#c0c0c0"/>
<rect x="1379" y="557" width="1" height="27" fill="#c0c0c0"/>
<rect x="1387" y="556" width="1" height="28" fill="#c0c0c0"/>
<rect x="1395" y="557" width="1" height="27" fill="#c0c0c0"/>
<rect x="1403" y="557" width="1" height="27" fill="#c0c0c0"/>
<rect x="1411" y="556" width="1" height="28" fill="#c0c0c0"/>
<rect x="1419" y="558" width="1" height="26" fill="#c0c0c0"/>
<rect x="1427" y="561" width="1" height="23" fill="#c0c0c0"/>
<rect x="1435" y="561" width="1" height="23" fill="#c0c0c0"/>
<rect x="1443" y="560" width="1" height="24" fill="#c0c0c0"/>
<rect x="1451" y="560" width="1" height="24" fill="#c0c0c0"/>
<rect x="1459" y="560" width="1" height="24" fill="#c0c0c0"/>
<rect x="1467" y="558" width="1" height="26" fill="#c0c0c0"/>
<rect x="1475" y="558" width="1" height="26" fill="#c0c0c0"/>
<rect x="1483" y="560" width="1" height="24" fill="#c0c0c0"/>
<rect x="1491" y="566" width="1" height="18" fill="#c0c0c0"/>
<rect x="1499" y="570" width="1" height="14" fill="#c0c0c0"/>
<rect x="1507" y="576" width="1" height="8" fill="#c0c0c0"/>
<rect x="1515" y="582" width="1" height="2" fill="#c0c0c0"/>
<rect x="1531" y="583" width="1" height="4" fill="#c0c0c0"/>
<rect x="1539" y="583" width="1" height="8" fill="#c0c0c0"/>
<rect x="1547" y="583" width="1" height="10" fill="#c0c0c0"/>
<rect x="1555" y="583" width="1" height="13" fill="#c0c0c0"/>
<rect x="1563" y="583" width="1" height="13" fill="#c0c0c0"/>
<rect x="1571" y="583" width="1" height="13" fill="#c0c0c0"/>
<rect x="1579" y="583" width="1" height="10" fill="#c0c0c0"/>
<rect x="1587" y="583" width="1" height="10" fill="#c0c0c0"/>
<rect x="1595" y="583" width="1" height="8" fill="#c0c0c0"/>
<rect x="1603" y="583" width="1" height="6" fill="#c0c0c0"/>
<rect x="1611" y="583" width="1" height="4" fill="#c0c0c0"/>
<rect x="1619" y="583" width="1" height="3" fill="#c0c0c0"/>
<rect x="1627" y="583" width="1" height="3" fill="#c0c0c0"/>
<rect x="1635" y="583" width="1" height="4" fill="#c0c0c0"/>
<rect x="1643" y="583" width="1" height="4" fill="#c0c0c0"/>
<rect x="1651" y="583" width="1" height="5" fill="#c0c0c0"/>
<rect x="1659" y="583" width="1" height="6" fill="#c0c0c0"/>
<polyline points="3,562.4 15,575 27.5,590 42.4,606 55,618.6 67.4,629.3 82.4,637.8 99.8,644.8 112.3,646.8 124.8,645.5 137.3,641 149.7,633 162.2,622.3 174.7,608.6 187.2,596 199.7,586.9 212,579.4 224.6,575.7 237,574.4 254.6,574.4 269.5,576.7 287,578 312,577.4 329.4,580 349.4,582.4 364.4,585.4 379.3,586.9 394.3,584 411.8,581 430,575.8 442.5,574.4 455,575.4 467.4,579.4 480,584.9 492.4,593.6 504.9,599.9 517.3,604.9 529.8,607.4 542.3,607 554.8,606.4 574.7,606.6 592.2,609 604.7,611 617.2,612.4 629.6,610.9 642,607.9 654.6,602.4 667,597.4 679.5,591 692,586 704.5,580.7 717,574.9 729.5,569.9 742,566 754.4,562.4 766.9,558.7 779.4,556 791.9,555 816.8,554.5 841.8,553 860,551 875,549 890,548.5 905,550 917.4,552.5 930,556 944.9,561 959.8,564.4 972.3,566.4 989.8,568.7 1007,569.4 1019.7,572.4 1034.7,574.9 1049.7,576.9 1059.7,576.9 1072,575.4 1084.6,573.7 1094.6,570.4 1103,567.4 1122,567.4 1147,569 1159.5,571 1179.4,571 1192,568.7 1204.4,567 1214.4,563.7 1226.9,561.4 1246.8,561.4 1259.3,563.7 1274.3,565.7 1290,567.5 1315,568.5 1335,569.7 1363,568.5 1380.5,566.4 1390.5,563 1405.6,561.4 1415.7,558.4 1430.7,557 1445.8,557 1466,558.4 1486,559.4 1503.6,561.4 1516,565 1528.8,569.5 1541,574.7 1554,581 1566.5,586.5 1579,590.8 1591.6,592.3 1604,593.3 1616.7,591.6 1629.3,589.8 1646.9,589 1660,586.5" fill="none" stroke="#ff0000" stroke-width="1" stroke-dasharray="3,3"/>
<text x="7" y="550.5" font-size="9.5" fill="#000" textLength="134.0" lengthAdjust="spacingAndGlyphs" stroke="#000" stroke-width="0.22">MACD(12,26,9) -3.3930 -2.8407</text>
<rect x="1679" y="540" width="1" height="1" fill="#000"/>
<rect x="1679" y="583" width="2" height="1" fill="#000"/>
<rect x="1679" y="662" width="1" height="1" fill="#000"/>
<text x="1682" y="549" font-size="9.5" fill="#000" textLength="32.8" lengthAdjust="spacingAndGlyphs" stroke="#000" stroke-width="0.22">27.6575</text>
<text x="1682" y="586.7" font-size="9.5" fill="#000" textLength="17.7" lengthAdjust="spacingAndGlyphs" stroke="#000" stroke-width="0.22">0.00</text>
<text x="1682" y="659.5" font-size="9.5" fill="#000" textLength="35.8" lengthAdjust="spacingAndGlyphs" stroke="#000" stroke-width="0.22">-50.5784</text>
<line x1="4" y1="697.5" x2="1678" y2="697.5" stroke="#c0c0c0" stroke-width="1" stroke-dasharray="3,3"/>
<line x1="4" y1="739.5" x2="1678" y2="739.5" stroke="#c0c0c0" stroke-width="1" stroke-dasharray="3,3"/>
<polyline points="3.5,742.4 11.5,751.6 19.5,743 27.5,738.9 35.5,738.6 43.5,734.4 51.5,735.4 59.5,737.4 67.5,737.6 75.5,742.4 83.5,742.6 91.5,747.3 99.5,739.9 107.5,729.9 115.5,719.4 123.5,714.4 131.5,710.4 139.5,714.4 147.5,711.7 155.5,711.7 163.5,710.4 171.5,710.4 179.5,714.4 187.5,709 195.5,710.7 203.5,714.4 211.5,717.9 219.5,720.4 227.5,721.4 235.5,717.4 243.5,722.4 251.5,718.6 259.5,717.4 267.5,714 275.5,716.4 283.5,713.4 291.5,710.4 299.5,713.7 307.5,723.6 315.5,727.4 323.5,729.4 331.5,721.6 339.5,720 347.5,721 355.5,719.4 363.5,715.4 371.5,711.4 379.5,714.4 387.5,709.9 395.5,708 403.5,708 411.5,713.7 419.5,716.4 427.5,714.4 435.5,718.6 443.5,721.6 451.5,734.9 459.5,733.4 467.5,733.4 475.5,734.4 483.5,738.4 491.5,734 499.5,729.9 507.5,719.4 515.5,719.4 523.5,719.4 531.5,722.4 539.5,719.4 547.5,730.4 555.5,735.4 563.5,732.4 571.5,733.4 579.5,732.4 587.5,729.4 595.5,725.9 603.5,724.4 611.5,719.9 619.5,716.4 627.5,716.4 635.5,720.4 643.5,718 651.5,712.4 659.5,706.9 667.5,709.4 675.5,708 683.5,707.4 691.5,714 699.5,706.4 707.5,705.4 715.5,706.4 723.5,705 731.5,701.4 739.5,699.9 747.5,699 755.5,705.4 763.5,703.4 771.5,704.4 779.5,703.4 787.5,709.4 795.5,710.4 803.5,710.4 811.5,704.4 819.5,696.9 827.5,696.4 835.5,696.4 843.5,698.4 851.5,696.9 859.5,696.2 867.5,702.4 875.5,709.4 883.5,709.4 891.5,704.4 899.5,717.4 907.5,716.4 915.5,715 923.5,714 931.5,715.4 939.5,716.6 947.5,708.4 955.5,706 963.5,708 971.5,710.4 979.5,708.4 987.5,726.4 995.5,718.4 1003.5,715.4 1011.5,721 1019.5,724.4 1027.5,723.4 1035.5,713 1043.5,708.4 1051.5,706.9 1059.5,705.4 1067.5,704.4 1075.5,705.4 1083.5,701.9 1091.5,697.9 1099.5,722 1107.5,720 1115.5,721.4 1123.5,722.4 1131.5,718.4 1139.5,718.4 1147.5,710 1155.5,705.4 1163.5,706.4 1171.5,707.4 1179.5,702.4 1187.5,712.4 1195.5,707 1203.5,708.4 1211.5,712.4 1219.5,713.4 1227.5,714.4 1235.5,714 1243.5,711.4 1251.5,713.4 1259.5,713.4 1267.5,716.4 1275.5,712.4 1283.5,710.4 1291.5,709.2 1299.5,710.3 1307.5,708.3 1315.5,714.8 1323.5,718.6 1331.5,713.3 1339.5,708.3 1347.5,703.5 1355.5,703.2 1363.5,701.5 1371.5,698.5 1379.5,697.2 1387.5,701.5 1395.5,706.2 1403.5,704.2 1411.5,702.5 1419.5,712.3 1427.5,711.3 1435.5,708.3 1443.5,704.5 1451.5,707.2 1459.5,705.2 1467.5,701.2 1475.5,704.7 1483.5,709.3 1491.5,724.3 1499.5,722.3 1507.5,727.4 1515.5,730.4 1523.5,726.3 1531.5,727.4 1539.5,728.4 1547.5,730.4 1555.5,731.6 1563.5,721.3 1571.5,723.3 1579.5,720.3 1587.5,722.3 1595.5,716.5 1603.5,714.3 1611.5,715.3 1619.5,716.5 1627.5,722.3 1635.5,718.3 1643.5,724.3 1651.5,722.8 1659.5,722" fill="none" stroke="#1e90ff" stroke-width="1" shape-rendering="auto"/>
<text x="7" y="677.5" font-size="9.5" fill="#000" textLength="67.6" lengthAdjust="spacingAndGlyphs" stroke="#000" stroke-width="0.22">RSI(14) 46.2072</text>
<text x="1682" y="676" font-size="9.5" fill="#000" textLength="15.1" lengthAdjust="spacingAndGlyphs" stroke="#000" stroke-width="0.22">100</text>
<text x="1682" y="701" font-size="9.5" fill="#000" textLength="10.1" lengthAdjust="spacingAndGlyphs" stroke="#000" stroke-width="0.22">70</text>
<text x="1682" y="743" font-size="9.5" fill="#000" textLength="10.1" lengthAdjust="spacingAndGlyphs" stroke="#000" stroke-width="0.22">30</text>
<text x="1682" y="767" font-size="9.5" fill="#000" textLength="5.0" lengthAdjust="spacingAndGlyphs" stroke="#000" stroke-width="0.22">0</text>
<rect x="1679" y="667" width="1" height="1" fill="#000"/>
<rect x="1679" y="769" width="1" height="1" fill="#000"/>
<rect x="1678" y="697" width="1" height="1" fill="#e0e0e0"/>
<rect x="1678" y="739" width="1" height="1" fill="#e0e0e0"/>
<rect x="3" y="770" width="1" height="4" fill="#000"/>
<text x="3" y="783" font-size="9.5" fill="#000" textLength="48.5" lengthAdjust="spacingAndGlyphs" stroke="#000" stroke-width="0.22">11 Jun 2020</text>
<rect x="67" y="770" width="1" height="4" fill="#000"/>
<text x="67" y="783" font-size="9.5" fill="#000" textLength="51.6" lengthAdjust="spacingAndGlyphs" stroke="#000" stroke-width="0.22">12 Jun 20:00</text>
<rect x="131" y="770" width="1" height="4" fill="#000"/>
<text x="131" y="783" font-size="9.5" fill="#000" textLength="51.6" lengthAdjust="spacingAndGlyphs" stroke="#000" stroke-width="0.22">16 Jun 00:00</text>
<rect x="195" y="770" width="1" height="4" fill="#000"/>
<text x="195" y="783" font-size="9.5" fill="#000" textLength="51.6" lengthAdjust="spacingAndGlyphs" stroke="#000" stroke-width="0.22">17 Jun 08:00</text>
<rect x="259" y="770" width="1" height="4" fill="#000"/>
<text x="259" y="783" font-size="9.5" fill="#000" textLength="51.6" lengthAdjust="spacingAndGlyphs" stroke="#000" stroke-width="0.22">18 Jun 16:00</text>
<rect x="323" y="770" width="1" height="4" fill="#000"/>
<text x="323" y="783" font-size="9.5" fill="#000" textLength="51.6" lengthAdjust="spacingAndGlyphs" stroke="#000" stroke-width="0.22">21 Jun 23:00</text>
<rect x="387" y="770" width="1" height="4" fill="#000"/>
<text x="387" y="783" font-size="9.5" fill="#000" textLength="51.6" lengthAdjust="spacingAndGlyphs" stroke="#000" stroke-width="0.22">23 Jun 04:00</text>
<rect x="451" y="770" width="1" height="4" fill="#000"/>
<text x="451" y="783" font-size="9.5" fill="#000" textLength="51.6" lengthAdjust="spacingAndGlyphs" stroke="#000" stroke-width="0.22">24 Jun 12:00</text>
<rect x="515" y="770" width="1" height="4" fill="#000"/>
<text x="515" y="783" font-size="9.5" fill="#000" textLength="51.6" lengthAdjust="spacingAndGlyphs" stroke="#000" stroke-width="0.22">25 Jun 20:00</text>
<rect x="579" y="770" width="1" height="4" fill="#000"/>
<text x="579" y="783" font-size="9.5" fill="#000" textLength="51.6" lengthAdjust="spacingAndGlyphs" stroke="#000" stroke-width="0.22">29 Jun 00:00</text>
<rect x="643" y="770" width="1" height="4" fill="#000"/>
<text x="643" y="783" font-size="9.5" fill="#000" textLength="51.6" lengthAdjust="spacingAndGlyphs" stroke="#000" stroke-width="0.22">30 Jun 08:00</text>
<rect x="707" y="770" width="1" height="4" fill="#000"/>
<text x="707" y="783" font-size="9.5" fill="#000" textLength="43.7" lengthAdjust="spacingAndGlyphs" stroke="#000" stroke-width="0.22">1 Jul 16:00</text>
<rect x="771" y="770" width="1" height="4" fill="#000"/>
<text x="771" y="783" font-size="9.5" fill="#000" textLength="43.7" lengthAdjust="spacingAndGlyphs" stroke="#000" stroke-width="0.22">3 Jul 00:00</text>
<rect x="835" y="770" width="1" height="4" fill="#000"/>
<text x="835" y="783" font-size="9.5" fill="#000" textLength="43.7" lengthAdjust="spacingAndGlyphs" stroke="#000" stroke-width="0.22">6 Jul 08:00</text>
<rect x="899" y="770" width="1" height="4" fill="#000"/>
<text x="899" y="783" font-size="9.5" fill="#000" textLength="43.7" lengthAdjust="spacingAndGlyphs" stroke="#000" stroke-width="0.22">7 Jul 16:00</text>
<rect x="963" y="770" width="1" height="4" fill="#000"/>
<text x="963" y="783" font-size="9.5" fill="#000" textLength="43.7" lengthAdjust="spacingAndGlyphs" stroke="#000" stroke-width="0.22">9 Jul 00:00</text>
<rect x="1027" y="770" width="1" height="4" fill="#000"/>
<text x="1027" y="783" font-size="9.5" fill="#000" textLength="48.7" lengthAdjust="spacingAndGlyphs" stroke="#000" stroke-width="0.22">10 Jul 08:00</text>
<rect x="1091" y="770" width="1" height="4" fill="#000"/>
<text x="1091" y="783" font-size="9.5" fill="#000" textLength="48.7" lengthAdjust="spacingAndGlyphs" stroke="#000" stroke-width="0.22">13 Jul 12:00</text>
<rect x="1155" y="770" width="1" height="4" fill="#000"/>
<text x="1155" y="783" font-size="9.5" fill="#000" textLength="48.7" lengthAdjust="spacingAndGlyphs" stroke="#000" stroke-width="0.22">14 Jul 20:00</text>
<rect x="1219" y="770" width="1" height="4" fill="#000"/>
<text x="1219" y="783" font-size="9.5" fill="#000" textLength="48.7" lengthAdjust="spacingAndGlyphs" stroke="#000" stroke-width="0.22">16 Jul 04:00</text>
<rect x="1283" y="770" width="1" height="4" fill="#000"/>
<text x="1283" y="783" font-size="9.5" fill="#000" textLength="48.7" lengthAdjust="spacingAndGlyphs" stroke="#000" stroke-width="0.22">17 Jul 12:00</text>
<rect x="1347" y="770" width="1" height="4" fill="#000"/>
<text x="1347" y="783" font-size="9.5" fill="#000" textLength="48.7" lengthAdjust="spacingAndGlyphs" stroke="#000" stroke-width="0.22">20 Jul 16:00</text>
<rect x="1411" y="770" width="1" height="4" fill="#000"/>
<text x="1411" y="783" font-size="9.5" fill="#000" textLength="48.7" lengthAdjust="spacingAndGlyphs" stroke="#000" stroke-width="0.22">22 Jul 00:00</text>
<rect x="1475" y="770" width="1" height="4" fill="#000"/>
<text x="1475" y="783" font-size="9.5" fill="#000" textLength="48.7" lengthAdjust="spacingAndGlyphs" stroke="#000" stroke-width="0.22">23 Jul 08:00</text>
<rect x="1539" y="770" width="1" height="4" fill="#000"/>
<text x="1539" y="783" font-size="9.5" fill="#000" textLength="48.7" lengthAdjust="spacingAndGlyphs" stroke="#000" stroke-width="0.22">24 Jul 16:00</text>
<rect x="1603" y="770" width="1" height="4" fill="#000"/>
<text x="1603" y="783" font-size="9.5" fill="#000" textLength="48.7" lengthAdjust="spacingAndGlyphs" stroke="#000" stroke-width="0.22">27 Jul 20:00</text>
<rect x="0" y="791" width="1723" height="1" fill="#d4d4d4"/>
<rect x="0" y="792" width="1723" height="1" fill="#f6f6f6"/>
<rect x="0" y="793" width="261" height="1" fill="#000"/>
<rect x="339" y="793" width="1384" height="1" fill="#000"/>
<g fill="#e8161c" shape-rendering="auto">
<text x="1183" y="371.5" font-size="36" fill="#e8161c" textLength="264" lengthAdjust="spacing" style="font-family:'Liberation Sans','Noto Sans CJK SC',sans-serif">多空转折点3215</text>
</g>
</svg>
</body></html>
